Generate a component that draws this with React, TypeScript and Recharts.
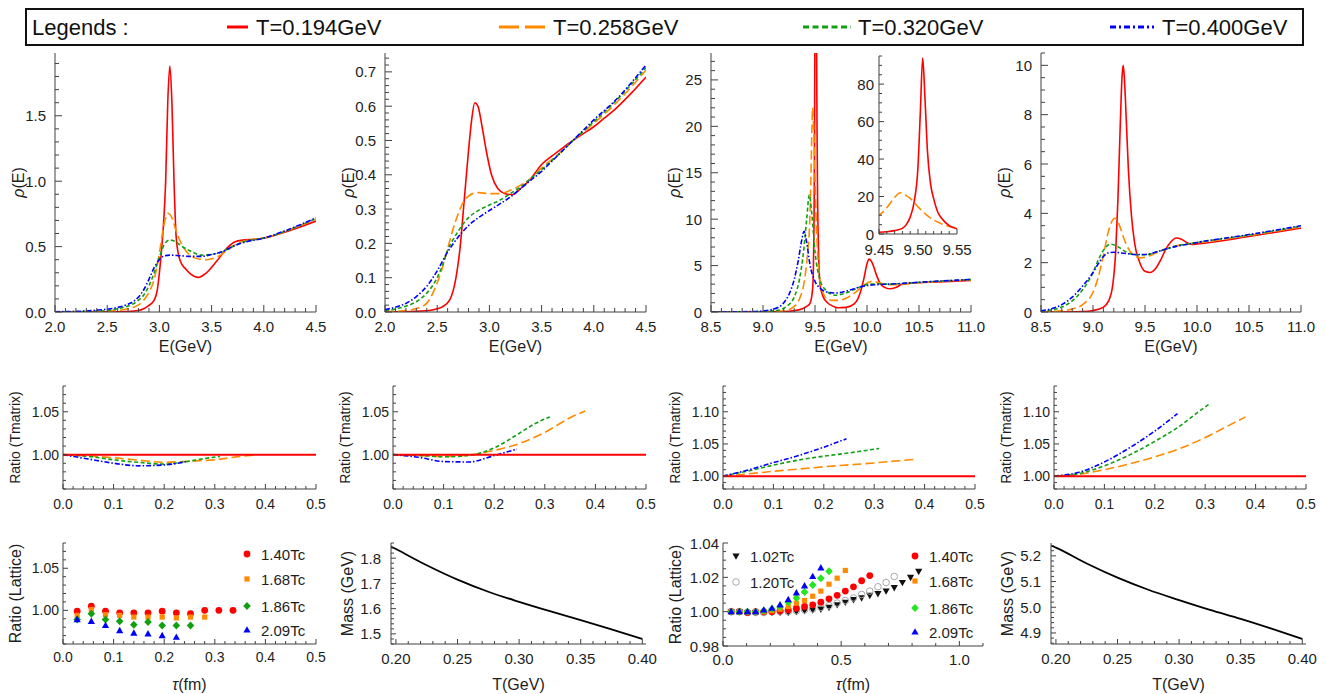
import React from "react";
import { ComposedChart, Line, Scatter, XAxis, YAxis } from "recharts";

const RED = "#ff0000";
const ORANGE = "#ff8a00";
const GREEN = "#12a012";
const BLUE = "#0000ff";
const LIME = "#1fe81f";
const GREY = "#a8a8a8";
const FRAME = "#404040";
const INK = "#1e1e1e";
const SANS = "'Liberation Sans', Arial, Helvetica, sans-serif";

const DASH_ORANGE = "9 4";
const DASH_GREEN = "4 2.5";
const DASH_BLUE = "5 2 1.5 2";

// legend texts
const tempLabels = ["T=0.194GeV", "T=0.258GeV", "T=0.320GeV", "T=0.400GeV"];
const charmLatticeLabels = ["1.40Tc", "1.68Tc", "1.86Tc", "2.09Tc"];
const bottomLatticeLeft = ["1.02Tc", "1.20Tc"];
const bottomLatticeRight = ["1.40Tc", "1.68Tc", "1.86Tc", "2.09Tc"];

// ---- spectral function, charmonium 1
const c1RedE = [2.0, 2.6, 2.8, 2.85, 2.9, 2.95, 2.98, 3.0, 3.02, 3.04, 3.06, 3.08, 3.1, 3.12, 3.14, 3.16, 3.18, 3.2, 3.25, 3.3, 3.37, 3.45, 3.55, 3.65, 3.72, 3.8, 3.9, 4.0, 4.2, 4.5];
const c1RedRho = [0, 0.002, 0.012, 0.025, 0.05, 0.09, 0.17, 0.3, 0.47, 0.68, 1.0, 1.6, 1.88, 1.6, 1.0, 0.58, 0.45, 0.39, 0.33, 0.29, 0.265, 0.3, 0.39, 0.49, 0.535, 0.55, 0.555, 0.565, 0.61, 0.695];
const c1OrangeE = [2.0, 2.4, 2.6, 2.7, 2.8, 2.85, 2.9, 2.95, 3.0, 3.04, 3.08, 3.12, 3.16, 3.2, 3.25, 3.3, 3.38, 3.45, 3.55, 3.65, 3.75, 3.85, 4.0, 4.2, 4.5];
const c1OrangeRho = [0, 0.004, 0.012, 0.025, 0.055, 0.09, 0.15, 0.25, 0.45, 0.65, 0.755, 0.72, 0.62, 0.54, 0.47, 0.43, 0.405, 0.4, 0.42, 0.47, 0.525, 0.55, 0.565, 0.615, 0.71];
const c1GreenE = [2.0, 2.3, 2.5, 2.6, 2.7, 2.8, 2.85, 2.9, 2.95, 3.0, 3.05, 3.1, 3.15, 3.2, 3.3, 3.4, 3.5, 3.6, 3.7, 3.8, 4.0, 4.2, 4.5];
const c1GreenRho = [0, 0.004, 0.012, 0.025, 0.045, 0.09, 0.13, 0.2, 0.3, 0.42, 0.52, 0.55, 0.54, 0.51, 0.465, 0.435, 0.44, 0.46, 0.5, 0.535, 0.565, 0.615, 0.715];
const c1BlueE = [2.0, 2.3, 2.4, 2.5, 2.6, 2.7, 2.75, 2.8, 2.85, 2.9, 2.95, 3.0, 3.05, 3.1, 3.2, 3.3, 3.4, 3.5, 3.6, 3.7, 3.8, 4.0, 4.2, 4.5];
const c1BlueRho = [0.002, 0.008, 0.014, 0.022, 0.035, 0.06, 0.08, 0.115, 0.17, 0.25, 0.34, 0.4, 0.43, 0.435, 0.43, 0.425, 0.425, 0.44, 0.46, 0.5, 0.53, 0.565, 0.62, 0.72];

// ---- spectral function, charmonium 2
const c2RedE = [2.0, 2.3, 2.45, 2.55, 2.62, 2.68, 2.72, 2.76, 2.8, 2.83, 2.86, 2.89, 2.93, 2.97, 3.02, 3.08, 3.15, 3.22, 3.3, 3.4, 3.5, 3.6, 3.7, 3.8, 3.9, 4.0, 4.1, 4.2, 4.35, 4.5];
const c2RedRho = [0, 0.002, 0.006, 0.015, 0.035, 0.1, 0.19, 0.33, 0.47, 0.56, 0.61, 0.6, 0.54, 0.47, 0.4, 0.36, 0.345, 0.342, 0.36, 0.39, 0.43, 0.455, 0.478, 0.5, 0.52, 0.54, 0.565, 0.59, 0.635, 0.685];
const c2OrangeE = [2.0, 2.2, 2.3, 2.4, 2.5, 2.55, 2.6, 2.65, 2.7, 2.75, 2.8, 2.85, 2.9, 3.0, 3.1, 3.2, 3.3, 3.4, 3.5, 3.6, 3.7, 3.8, 3.9, 4.0, 4.2, 4.5];
const c2OrangeRho = [0.001, 0.004, 0.01, 0.026, 0.085, 0.13, 0.185, 0.24, 0.285, 0.32, 0.338, 0.346, 0.348, 0.345, 0.345, 0.355, 0.37, 0.39, 0.42, 0.445, 0.47, 0.5, 0.525, 0.55, 0.605, 0.705];
const c2GreenE = [2.0, 2.1, 2.2, 2.3, 2.4, 2.5, 2.55, 2.6, 2.65, 2.7, 2.8, 2.9, 3.0, 3.1, 3.2, 3.3, 3.4, 3.5, 3.6, 3.7, 3.8, 3.9, 4.0, 4.2, 4.5];
const c2GreenRho = [0.004, 0.009, 0.017, 0.03, 0.055, 0.1, 0.135, 0.18, 0.21, 0.235, 0.275, 0.297, 0.312, 0.326, 0.345, 0.365, 0.39, 0.415, 0.442, 0.47, 0.5, 0.527, 0.555, 0.612, 0.712];
const c2BlueE = [2.0, 2.1, 2.2, 2.3, 2.4, 2.5, 2.6, 2.7, 2.8, 2.9, 3.0, 3.1, 3.2, 3.3, 3.4, 3.5, 3.6, 3.7, 3.8, 3.9, 4.0, 4.2, 4.5];
const c2BlueRho = [0.007, 0.014, 0.025, 0.045, 0.075, 0.12, 0.175, 0.218, 0.252, 0.276, 0.296, 0.315, 0.335, 0.36, 0.385, 0.41, 0.44, 0.47, 0.5, 0.53, 0.56, 0.615, 0.72];

// ---- spectral function, bottomonium 1 (also feeds the inset)
const b1RedE = [8.5, 9.2, 9.3, 9.38, 9.42, 9.45, 9.46, 9.47, 9.48, 9.485, 9.49, 9.495, 9.5, 9.503, 9.506, 9.509, 9.512, 9.516, 9.52, 9.525, 9.53, 9.54, 9.55, 9.58, 9.62, 9.66, 9.72, 9.8, 9.88, 9.93, 9.97, 10.0, 10.02, 10.05, 10.09, 10.13, 10.18, 10.22, 10.27, 10.33, 10.4, 10.6, 11.0];
const b1RedRho = [0, 0.05, 0.15, 0.35, 0.6, 0.9, 1.2, 1.8, 3.0, 5, 9, 17, 36, 65, 94, 72, 45, 27, 19, 12, 8.5, 4.5, 2.8, 1.6, 1.0, 0.7, 0.45, 0.5, 0.9, 1.9, 3.6, 5.2, 5.7, 5.3, 4.0, 3.0, 2.6, 2.5, 2.6, 2.95, 3.1, 3.2, 3.4];
const b1OrangeE = [8.5, 9.1, 9.2, 9.3, 9.35, 9.4, 9.43, 9.45, 9.46, 9.47, 9.477, 9.485, 9.49, 9.5, 9.51, 9.52, 9.53, 9.54, 9.55, 9.58, 9.62, 9.67, 9.72, 9.78, 9.85, 9.92, 10.0, 10.05, 10.1, 10.2, 10.3, 10.5, 11.0];
const b1OrangeRho = [0, 0.03, 0.12, 0.6, 1.4, 3.5, 6.5, 9.9, 14, 19.5, 22, 20.5, 19, 14.5, 10.5, 7.5, 5.5, 4.0, 3.2, 2.0, 1.4, 1.25, 1.25, 1.4, 1.8, 2.4, 3.1, 3.3, 3.2, 2.95, 2.95, 3.15, 3.45];
const b1GreenE = [8.5, 9.0, 9.1, 9.2, 9.25, 9.3, 9.35, 9.39, 9.42, 9.445, 9.47, 9.5, 9.55, 9.6, 9.65, 9.7, 9.8, 9.9, 10.0, 10.1, 10.2, 10.3, 10.5, 11.0];
const b1GreenRho = [0, 0.04, 0.12, 0.4, 0.8, 1.6, 3.5, 6.5, 10, 12.6, 10.5, 6.5, 3.4, 2.4, 1.95, 1.8, 2.05, 2.55, 2.95, 3.05, 3.0, 3.05, 3.2, 3.5];
const b1BlueE = [8.5, 8.9, 9.0, 9.1, 9.2, 9.25, 9.3, 9.34, 9.37, 9.395, 9.42, 9.45, 9.5, 9.55, 9.6, 9.7, 9.8, 9.9, 10.0, 10.1, 10.2, 10.3, 10.5, 11.0];
const b1BlueRho = [0, 0.05, 0.12, 0.3, 1.0, 1.9, 3.5, 5.6, 7.6, 8.7, 7.5, 5.2, 3.3, 2.55, 2.2, 2.05, 2.25, 2.6, 2.85, 2.95, 3.0, 3.05, 3.2, 3.5];

// ---- spectral function, bottomonium 2
const b2RedE = [8.5, 8.9, 9.0, 9.1, 9.15, 9.19, 9.22, 9.24, 9.26, 9.28, 9.29, 9.3, 9.32, 9.34, 9.37, 9.4, 9.45, 9.5, 9.55, 9.6, 9.65, 9.7, 9.75, 9.8, 9.85, 9.9, 9.95, 10.0, 10.5, 11.0];
const b2RedRho = [0, 0.02, 0.06, 0.2, 0.45, 1.1, 2.6, 4.6, 7.3, 9.6, 10.0, 9.6, 7.8, 5.8, 3.9, 2.8, 2.0, 1.65, 1.6, 1.75, 2.1, 2.55, 2.85, 3.0, 2.95, 2.82, 2.74, 2.76, 3.06, 3.4];
const b2OrangeE = [8.5, 8.7, 8.8, 8.9, 9.0, 9.05, 9.1, 9.15, 9.21, 9.25, 9.3, 9.35, 9.4, 9.45, 9.5, 9.6, 9.7, 9.8, 9.9, 10.0, 10.5, 11.0];
const b2OrangeRho = [0.01, 0.05, 0.12, 0.3, 0.8, 1.4, 2.3, 3.3, 3.8, 3.55, 2.95, 2.5, 2.28, 2.2, 2.22, 2.38, 2.55, 2.68, 2.75, 2.8, 3.1, 3.45];
const b2GreenE = [8.5, 8.6, 8.7, 8.8, 8.9, 9.0, 9.05, 9.1, 9.17, 9.25, 9.3, 9.4, 9.5, 9.6, 9.7, 9.8, 9.9, 10.0, 10.5, 11.0];
const b2GreenRho = [0.03, 0.08, 0.2, 0.45, 0.9, 1.6, 2.1, 2.5, 2.75, 2.62, 2.48, 2.32, 2.32, 2.42, 2.55, 2.68, 2.75, 2.82, 3.12, 3.48];
const b2BlueE = [8.5, 8.6, 8.7, 8.8, 8.9, 9.0, 9.05, 9.1, 9.15, 9.2, 9.3, 9.4, 9.5, 9.6, 9.7, 9.8, 9.9, 10.0, 10.5, 11.0];
const b2BlueRho = [0.05, 0.13, 0.3, 0.6, 1.05, 1.6, 1.95, 2.25, 2.4, 2.42, 2.38, 2.33, 2.33, 2.42, 2.55, 2.66, 2.74, 2.82, 3.14, 3.5];

// ---- T-matrix correlator ratios
const flatTau = [0, 0.5];
const flatRatio = [1, 1];
const tmOrangeTau = [0, 0.05, 0.1, 0.15, 0.2, 0.25, 0.3, 0.35, 0.38];
const tmGreenTau = [0, 0.05, 0.1, 0.15, 0.2, 0.25, 0.28, 0.31];
const tmBlueTau = [0, 0.05, 0.1, 0.15, 0.2, 0.245];

const m1Orange = [1, 0.9985, 0.9964, 0.9935, 0.9912, 0.9924, 0.994, 0.998, 0.9995];
const m1Green = [1, 0.998, 0.994, 0.991, 0.989, 0.9925, 0.9955, 0.998];
const m1Blue = [1, 0.995, 0.99, 0.987, 0.988, 0.992];

const m2Orange = [1, 0.999, 0.998, 0.9995, 1.005, 1.013, 1.026, 1.043, 1.051];
const m2Green = [1, 0.9992, 0.9975, 0.999, 1.008, 1.025, 1.036, 1.044];
const m2Blue = [1, 0.997, 0.992, 0.9915, 0.999, 1.0065];

const m3Orange = [1, 1.0035, 1.0075, 1.011, 1.0145, 1.0175, 1.0205, 1.024, 1.026];
const m3Green = [1, 1.008, 1.017, 1.025, 1.031, 1.036, 1.0395, 1.043];
const m3Blue = [1, 1.0095, 1.021, 1.032, 1.045, 1.058];

const m4Orange = [1, 1.003, 1.01, 1.019, 1.03, 1.043, 1.06, 1.08, 1.092];
const m4Green = [1, 1.004, 1.016, 1.033, 1.054, 1.078, 1.096, 1.113];
const m4Blue = [1, 1.006, 1.022, 1.044, 1.07, 1.097];

// ---- lattice ratios, charmonium
const cLatTau = [0.028, 0.056, 0.084, 0.112, 0.14, 0.168, 0.196, 0.224, 0.252, 0.28, 0.308, 0.336];
const cLat140 = [0.999, 1.005, 0.999, 0.997, 0.997, 0.997, 0.999, 0.997, 0.996, 1.0, 1.0, 1.0];
const cLat168 = [0.994, 1.001, 0.995, 0.994, 0.992, 0.992, 0.992, 0.991, 0.992, 0.992];
const cLat186 = [0.989, 0.996, 0.989, 0.987, 0.983, 0.986, 0.982, 0.982, 0.982];
const cLat209 = [0.989, 0.987, 0.982, 0.976, 0.973, 0.972, 0.97, 0.968];

// ---- lattice ratios, bottomonium
const bLatTau = [0.0345, 0.069, 0.1035, 0.138, 0.1725, 0.207, 0.2415, 0.276, 0.3105, 0.345, 0.3795, 0.414, 0.4485, 0.483, 0.5175, 0.552, 0.5865, 0.621, 0.6555, 0.69, 0.7245, 0.759, 0.7935, 0.828];
const bLat102 = [1.0, 1.0, 0.9995, 0.9995, 0.9995, 0.9995, 0.9995, 0.9995, 1.0, 1.0005, 1.001, 1.0015, 1.0025, 1.004, 1.0055, 1.007, 1.008, 1.0095, 1.0105, 1.012, 1.014, 1.017, 1.02, 1.0235];
const bLat120 = [1.0, 1.0, 0.9995, 0.9995, 0.9995, 1.0, 1.0, 1.0, 1.0005, 1.001, 1.0015, 1.0025, 1.0035, 1.005, 1.0065, 1.008, 1.01, 1.012, 1.0145, 1.017, 1.0205];
const bLat140 = [1.0, 1.0, 0.9995, 1.0, 1.0, 1.0, 1.0005, 1.001, 1.002, 1.003, 1.004, 1.0055, 1.0075, 1.0095, 1.012, 1.0145, 1.018, 1.021];
const bLat168 = [1.0, 1.0, 1.0, 1.0, 1.0, 1.0005, 1.0015, 1.003, 1.005, 1.0065, 1.009, 1.012, 1.016, 1.0195, 1.024];
const bLat186 = [1.0, 1.0, 1.0, 1.0, 1.0005, 1.0015, 1.003, 1.0055, 1.008, 1.0115, 1.0155, 1.0195, 1.0235];
const bLat209 = [1.0, 1.0, 1.0, 1.0, 1.001, 1.002, 1.004, 1.007, 1.011, 1.015, 1.0205, 1.0255];

// ---- in-medium quark mass
const massT = [0.196, 0.2, 0.225, 0.25, 0.275, 0.3, 0.325, 0.35, 0.375, 0.4];
const charmMass = [1.846, 1.836, 1.772, 1.715, 1.667, 1.627, 1.59, 1.555, 1.518, 1.48];
const bottomMass = [5.24, 5.232, 5.17, 5.115, 5.068, 5.028, 4.99, 4.955, 4.917, 4.877];

// ---- tick labels
const eTicksCharm = [2.0, 2.5, 3.0, 3.5, 4.0, 4.5];
const eTicksBottom = [8.5, 9.0, 9.5, 10.0, 10.5, 11.0];
const rhoTicksC1 = [0, 0.5, 1.0, 1.5];
const rhoTicksC2 = [0, 0.1, 0.2, 0.3, 0.4, 0.5, 0.6, 0.7];
const rhoTicksB1 = [0, 5, 10, 15, 20, 25];
const rhoTicksB2 = [0, 2, 4, 6, 8, 10];
const insetETicks = [9.45, 9.5, 9.55];
const insetRhoTicks = [0, 20, 40, 60, 80];
const tauTicks = [0, 0.1, 0.2, 0.3, 0.4, 0.5];
const tauTicksLong = [0, 0.5, 1.0];
const ratioTicksLow = [1.0, 1.05];
const ratioTicksHigh = [1.0, 1.05, 1.1];
const latticeTicksB = [0.98, 1.0, 1.02, 1.04];
const tempTicks = [0.2, 0.25, 0.3, 0.35, 0.4];
const massTicksC = [1.5, 1.6, 1.7, 1.8];
const massTicksB = [4.9, 5.0, 5.1, 5.2];

type Pt = { x: number; y: number };
const pts = (xs: number[], ys: number[]): Pt[] => ys.map((y, i) => ({ x: xs[i], y }));

function tickGrid(lo: number, hi: number, step: number, majors: number[]) {
  const out: number[] = [];
  const first = Math.ceil(lo / step - 1e-6);
  const last = Math.floor(hi / step + 1e-6);
  for (let i = first; i <= last; i++) out.push(Number((i * step).toFixed(6)));
  majors.forEach((m) => {
    if (!out.some((v) => Math.abs(v - m) < step * 1e-3)) out.push(m);
  });
  return out.sort((a, b) => a - b);
}

type Side = "bottom" | "top" | "left" | "right";

function makeTick(side: Side, majors: number[], digits: number, labelled: boolean, fs: number, gap: number, majorLen: number, minorLen: number, tol: number) {
  return (p: any) => {
    const v = Number(p.payload.value);
    const major = majors.some((m) => Math.abs(m - v) < tol);
    const len = major ? majorLen : minorLen;
    const x = p.x;
    const y = p.y;
    const dx = side === "left" ? len : side === "right" ? -len : 0;
    const dy = side === "bottom" ? -len : side === "top" ? len : 0;
    let text = null;
    if (labelled && major) {
      text =
        side === "bottom" ? (
          <text x={x} y={y + gap} textAnchor="middle" dominantBaseline="central" fontSize={fs} fontFamily={SANS} fill={INK}>
            {v.toFixed(digits)}
          </text>
        ) : (
          <text x={x - gap} y={y} textAnchor="end" dominantBaseline="central" fontSize={fs} fontFamily={SANS} fill={INK}>
            {v.toFixed(digits)}
          </text>
        );
    }
    return (
      <g>
        <line x1={x} y1={y} x2={x + dx} y2={y + dy} stroke={FRAME} strokeWidth={1} />
        {text}
      </g>
    );
  };
}

type PanelProps = {
  frame: [number, number, number, number];
  xDomain: [number, number];
  yDomain: [number, number];
  xMajor: number[];
  yMajor: number[];
  xMinor: number;
  yMinor: number;
  xDigits: number;
  yDigits: number;
  fontSize: number;
  xGap: number;
  yGap: number;
  xTitle?: React.ReactNode;
  yTitle?: React.ReactNode;
  xTitleDy?: number;
  yTitleDx?: number;
  titleSize?: number;
  majorLen?: number;
  minorLen?: number;
  background?: string;
  children: React.ReactNode;
};

const GL = 70;
const GR = 26;
const GT = 12;
const GB = 56;

function Panel(props: PanelProps) {
  const { frame, xDomain, yDomain, xMajor, yMajor, xMinor, yMinor, xDigits, yDigits, fontSize, xGap, yGap } = props;
  const majorLen = props.majorLen ?? 5;
  const minorLen = props.minorLen ?? 3;
  const titleSize = props.titleSize ?? 15;
  const [l, t, r, b] = frame;
  const w = r - l + GL + GR;
  const h = b - t + GT + GB;
  const xTicks = tickGrid(xDomain[0], xDomain[1], xMinor, xMajor);
  const yTicks = tickGrid(yDomain[0], yDomain[1], yMinor, yMajor);
  const xTol = xMinor * 0.01;
  const yTol = yMinor * 0.01;
  const frameLine = { stroke: FRAME, strokeWidth: 1 };
  const xLabel = props.xTitle
    ? {
        content: (lp: any) => {
          const vb = lp.viewBox;
          return (
            <text x={vb.x + vb.width / 2} y={vb.y + (props.xTitleDy ?? 34)} textAnchor="middle" dominantBaseline="central" fontSize={titleSize} fontFamily={SANS} fill={INK}>
              {props.xTitle}
            </text>
          );
        },
      }
    : undefined;
  const yLabel = props.yTitle
    ? {
        content: (lp: any) => {
          const vb = lp.viewBox;
          const cx = vb.x + vb.width - (props.yTitleDx ?? 38);
          const cy = vb.y + vb.height / 2;
          return (
            <text x={cx} y={cy} transform={`rotate(-90 ${cx} ${cy})`} textAnchor="middle" dominantBaseline="central" fontSize={titleSize} fontFamily={SANS} fill={INK}>
              {props.yTitle}
            </text>
          );
        },
      }
    : undefined;
  return (
    <div style={{ position: "absolute", left: l - GL, top: t - GT, width: w, height: h }}>
      {props.background && (
        <div style={{ position: "absolute", left: GL, top: GT, width: r - l, height: b - t, background: props.background }} />
      )}
      <div style={{ position: "absolute", left: 0, top: 0 }}>
        <ComposedChart width={w} height={h} margin={{ top: GT, right: GR, bottom: 0, left: 0 }}>
          <XAxis
            xAxisId={0}
            dataKey="x"
            type="number"
            orientation="bottom"
            domain={xDomain}
            allowDataOverflow
            height={GB}
            ticks={xTicks}
            interval={0}
            tickLine={false}
            tickSize={0}
            tickMargin={0}
            axisLine={frameLine}
            tick={makeTick("bottom", xMajor, xDigits, true, fontSize, xGap, majorLen, minorLen, xTol)}
            label={xLabel}
          />
          <XAxis
            xAxisId="top"
            type="number"
            orientation="top"
            domain={xDomain}
            allowDataOverflow
            height={0}
            ticks={xTicks}
            interval={0}
            tickLine={false}
            tickSize={0}
            tickMargin={0}
            axisLine={frameLine}
            tick={makeTick("top", xMajor, xDigits, false, fontSize, 0, majorLen, minorLen, xTol)}
          />
          <YAxis
            yAxisId={0}
            dataKey="y"
            type="number"
            orientation="left"
            domain={yDomain}
            allowDataOverflow
            width={GL}
            ticks={yTicks}
            interval={0}
            tickLine={false}
            tickSize={0}
            tickMargin={0}
            axisLine={frameLine}
            tick={makeTick("left", yMajor, yDigits, true, fontSize, yGap, majorLen, minorLen, yTol)}
            label={yLabel}
          />
          <YAxis
            yAxisId="right"
            type="number"
            orientation="right"
            domain={yDomain}
            allowDataOverflow
            width={0}
            ticks={yTicks}
            interval={0}
            tickLine={false}
            tickSize={0}
            tickMargin={0}
            axisLine={frameLine}
            tick={makeTick("right", yMajor, yDigits, false, fontSize, 0, majorLen, minorLen, yTol)}
          />
          {props.children}
        </ComposedChart>
      </div>
    </div>
  );
}

const curve = (key: string, data: Pt[], color: string, dash?: string, width = 1.6) => (
  <Line
    key={key}
    data={data}
    dataKey="y"
    type="monotone"
    stroke={color}
    strokeWidth={width}
    strokeDasharray={dash}
    dot={false}
    activeDot={false}
    isAnimationActive={false}
  />
);

type MarkerKind = "circle" | "square" | "diamond" | "up" | "down" | "ring";

function Marker({ kind, color, cx, cy }: { kind: MarkerKind; color: string; cx: number; cy: number }) {
  if (cx == null || cy == null) return null;
  switch (kind) {
    case "circle":
      return <circle cx={cx} cy={cy} r={3.4} fill={color} />;
    case "ring":
      return <circle cx={cx} cy={cy} r={3.3} fill="none" stroke={color} strokeWidth={1} />;
    case "square":
      return <rect x={cx - 2.6} y={cy - 2.6} width={5.2} height={5.2} fill={color} />;
    case "diamond":
      return <polygon points={`${cx},${cy - 4} ${cx + 3.8},${cy} ${cx},${cy + 4} ${cx - 3.8},${cy}`} fill={color} />;
    case "up":
      return <polygon points={`${cx},${cy - 3.8} ${cx + 3.6},${cy + 2.6} ${cx - 3.6},${cy + 2.6}`} fill={color} />;
    default:
      return <polygon points={`${cx},${cy + 3.8} ${cx + 3.6},${cy - 2.6} ${cx - 3.6},${cy - 2.6}`} fill={color} />;
  }
}

const dots = (key: string, data: Pt[], kind: MarkerKind, color: string) => (
  <Scatter
    key={key}
    data={data}
    dataKey="y"
    isAnimationActive={false}
    shape={(p: any) => <Marker kind={kind} color={color} cx={p.cx} cy={p.cy} />}
  />
);

const rhoTitle = (
  <>
    <tspan fontStyle="italic">ρ</tspan>(E)
  </>
);
const tauTitle = (
  <>
    <tspan fontStyle="italic">τ</tspan>(fm)
  </>
);

function spectral(red: Pt[], orange: Pt[], green: Pt[], blue: Pt[]) {
  return [
    curve("r", red, RED),
    curve("o", orange, ORANGE, DASH_ORANGE),
    curve("g", green, GREEN, DASH_GREEN),
    curve("b", blue, BLUE, DASH_BLUE),
  ];
}

function ratios(orange: Pt[], green: Pt[], blue: Pt[]) {
  return [
    curve("o", orange, ORANGE, DASH_ORANGE),
    curve("g", green, GREEN, DASH_GREEN),
    curve("b", blue, BLUE, DASH_BLUE),
    curve("r", pts(flatTau, flatRatio), RED, undefined, 2),
  ];
}

function TopLegend() {
  const cy = 27;
  const keyFont = { fontSize: 22, fontFamily: SANS, fill: "#111" };
  return (
    <svg width={1326} height={52} style={{ position: "absolute", left: 0, top: 0 }}>
      <rect x={26} y={9} width={1277} height={36} fill="#fff" stroke="#111" strokeWidth={2} />
      <text x={32} y={cy} dominantBaseline="central" {...keyFont}>
        Legends :
      </text>
      <line x1={227} x2={248} y1={cy} y2={cy} stroke={RED} strokeWidth={3} />
      <text x={256} y={cy} dominantBaseline="central" {...keyFont}>{tempLabels[0]}</text>
      <line x1={499} x2={545} y1={cy} y2={cy} stroke={ORANGE} strokeWidth={3} strokeDasharray="20 6" />
      <text x={553} y={cy} dominantBaseline="central" {...keyFont}>{tempLabels[1]}</text>
      <line x1={803} x2={851} y1={cy} y2={cy} stroke={GREEN} strokeWidth={3} strokeDasharray="6 3.5" />
      <text x={858} y={cy} dominantBaseline="central" {...keyFont}>{tempLabels[2]}</text>
      <line x1={1110} x2={1154} y1={cy} y2={cy} stroke={BLUE} strokeWidth={3} strokeDasharray="6 3 2 3" />
      <text x={1162} y={cy} dominantBaseline="central" {...keyFont}>{tempLabels[3]}</text>
    </svg>
  );
}

function MarkerKey({ x, tx, rows, labels, kinds, colors }: { x: number; tx: number; rows: number[]; labels: string[]; kinds: MarkerKind[]; colors: string[] }) {
  return (
    <>
      {labels.map((lab, i) => (
        <g key={lab + i}>
          <Marker kind={kinds[i]} color={colors[i]} cx={x} cy={rows[i]} />
          <text x={tx} y={rows[i]} dominantBaseline="central" fontSize={15} fontFamily={SANS} fill={INK}>
            {lab}
          </text>
        </g>
      ))}
    </>
  );
}

export default function App() {
  return (
    <div style={{ position: "absolute", left: 0, top: 0, width: 1326, height: 694, background: "#fff", overflow: "hidden" }}>
      <TopLegend />

      {/* row 1: spectral functions */}
      <Panel frame={[55, 53, 316, 312]} xDomain={[2, 4.5]} yDomain={[0, 1.98]} xMajor={eTicksCharm} yMajor={rhoTicksC1} xMinor={0.1} yMinor={0.1} xDigits={1} yDigits={1} fontSize={15} xGap={14} yGap={9} xTitle="E(GeV)" yTitle={rhoTitle} xTitleDy={34} yTitleDx={37} titleSize={16} majorLen={7} minorLen={4}>
        {spectral(pts(c1RedE, c1RedRho), pts(c1OrangeE, c1OrangeRho), pts(c1GreenE, c1GreenRho), pts(c1BlueE, c1BlueRho))}
      </Panel>
      <Panel frame={[385, 53, 646, 312]} xDomain={[2, 4.5]} yDomain={[0, 0.755]} xMajor={eTicksCharm} yMajor={rhoTicksC2} xMinor={0.1} yMinor={0.02} xDigits={1} yDigits={1} fontSize={15} xGap={14} yGap={9} xTitle="E(GeV)" yTitle={rhoTitle} xTitleDy={34} yTitleDx={37} titleSize={16} majorLen={7} minorLen={4}>
        {spectral(pts(c2RedE, c2RedRho), pts(c2OrangeE, c2OrangeRho), pts(c2GreenE, c2GreenRho), pts(c2BlueE, c2BlueRho))}
      </Panel>
      <Panel frame={[711, 53, 971, 312]} xDomain={[8.5, 11]} yDomain={[0, 27.9]} xMajor={eTicksBottom} yMajor={rhoTicksB1} xMinor={0.1} yMinor={1} xDigits={1} yDigits={0} fontSize={15} xGap={14} yGap={9} xTitle="E(GeV)" yTitle={rhoTitle} xTitleDy={34} yTitleDx={37} titleSize={16} majorLen={7} minorLen={4}>
        {spectral(pts(b1RedE, b1RedRho), pts(b1OrangeE, b1OrangeRho), pts(b1GreenE, b1GreenRho), pts(b1BlueE, b1BlueRho))}
      </Panel>
      <Panel frame={[879, 56, 957, 234]} xDomain={[9.45, 9.55]} yDomain={[0, 95]} xMajor={insetETicks} yMajor={insetRhoTicks} xMinor={0.01} yMinor={5} xDigits={2} yDigits={0} fontSize={15} xGap={15} yGap={5} majorLen={5} minorLen={3} background="#fff">
        {[curve("o", pts(b1OrangeE, b1OrangeRho), ORANGE, DASH_ORANGE), curve("r", pts(b1RedE, b1RedRho), RED)]}
      </Panel>
      <Panel frame={[1041, 53, 1301, 312]} xDomain={[8.5, 11]} yDomain={[0, 10.5]} xMajor={eTicksBottom} yMajor={rhoTicksB2} xMinor={0.1} yMinor={0.5} xDigits={1} yDigits={0} fontSize={15} xGap={14} yGap={9} xTitle="E(GeV)" yTitle={rhoTitle} xTitleDy={34} yTitleDx={37} titleSize={16} majorLen={7} minorLen={4}>
        {spectral(pts(b2RedE, b2RedRho), pts(b2OrangeE, b2OrangeRho), pts(b2GreenE, b2GreenRho), pts(b2BlueE, b2BlueRho))}
      </Panel>

      {/* row 2: T-matrix correlator ratios */}
      <Panel frame={[63, 386, 316, 489]} xDomain={[0, 0.5]} yDomain={[0.96, 1.08]} xMajor={tauTicks} yMajor={ratioTicksLow} xMinor={0.02} yMinor={0.01} xDigits={1} yDigits={2} fontSize={14} xGap={15} yGap={4} yTitle="Ratio (Tmatrix)" yTitleDx={48} titleSize={14}>
        {ratios(pts(tmOrangeTau, m1Orange), pts(tmGreenTau, m1Green), pts(tmBlueTau, m1Blue))}
      </Panel>
      <Panel frame={[393, 386, 646, 489]} xDomain={[0, 0.5]} yDomain={[0.96, 1.08]} xMajor={tauTicks} yMajor={ratioTicksLow} xMinor={0.02} yMinor={0.01} xDigits={1} yDigits={2} fontSize={14} xGap={15} yGap={4} yTitle="Ratio (Tmatrix)" yTitleDx={48} titleSize={14}>
        {ratios(pts(tmOrangeTau, m2Orange), pts(tmGreenTau, m2Green), pts(tmBlueTau, m2Blue))}
      </Panel>
      <Panel frame={[723, 386, 975, 489]} xDomain={[0, 0.5]} yDomain={[0.98, 1.14]} xMajor={tauTicks} yMajor={ratioTicksHigh} xMinor={0.02} yMinor={0.01} xDigits={1} yDigits={2} fontSize={14} xGap={15} yGap={4} yTitle="Ratio (Tmatrix)" yTitleDx={48} titleSize={14}>
        {ratios(pts(tmOrangeTau, m3Orange), pts(tmGreenTau, m3Green), pts(tmBlueTau, m3Blue))}
      </Panel>
      <Panel frame={[1054, 386, 1306, 489]} xDomain={[0, 0.5]} yDomain={[0.98, 1.14]} xMajor={tauTicks} yMajor={ratioTicksHigh} xMinor={0.02} yMinor={0.01} xDigits={1} yDigits={2} fontSize={14} xGap={15} yGap={4} yTitle="Ratio (Tmatrix)" yTitleDx={48} titleSize={14}>
        {ratios(pts(tmOrangeTau, m4Orange), pts(tmGreenTau, m4Green), pts(tmBlueTau, m4Blue))}
      </Panel>

      {/* row 3: lattice ratios and quark masses */}
      <Panel frame={[63, 543, 316, 644]} xDomain={[0, 0.5]} yDomain={[0.96, 1.08]} xMajor={tauTicks} yMajor={ratioTicksLow} xMinor={0.02} yMinor={0.01} xDigits={1} yDigits={2} fontSize={14} xGap={13} yGap={4} xTitle={tauTitle} yTitle="Ratio (Lattice)" xTitleDy={40} yTitleDx={48} titleSize={16}>
        {[
          dots("c140", pts(cLatTau, cLat140), "circle", RED),
          dots("c168", pts(cLatTau, cLat168), "square", ORANGE),
          dots("c186", pts(cLatTau, cLat186), "diamond", GREEN),
          dots("c209", pts(cLatTau, cLat209), "up", BLUE),
        ]}
      </Panel>
      <Panel frame={[391, 543, 646, 644]} xDomain={[0.196, 0.403]} yDomain={[1.46, 1.86]} xMajor={tempTicks} yMajor={massTicksC} xMinor={0.01} yMinor={0.02} xDigits={2} yDigits={1} fontSize={15} xGap={14} yGap={10} xTitle="T(GeV)" yTitle="Mass (GeV)" xTitleDy={40} yTitleDx={44} titleSize={16}>
        {[curve("m", pts(massT, charmMass), "#000", undefined, 1.8)]}
      </Panel>
      <Panel frame={[723, 543, 983, 646]} xDomain={[0, 1.1]} yDomain={[0.98, 1.04]} xMajor={tauTicksLong} yMajor={latticeTicksB} xMinor={0.1} yMinor={0.005} xDigits={1} yDigits={2} fontSize={15} xGap={13} yGap={4} xTitle={tauTitle} yTitle="Ratio (Lattice)" xTitleDy={38} yTitleDx={48} titleSize={16}>
        {[
          dots("b102", pts(bLatTau, bLat102), "down", "#111"),
          dots("b120", pts(bLatTau, bLat120), "ring", GREY),
          dots("b140", pts(bLatTau, bLat140), "circle", RED),
          dots("b168", pts(bLatTau, bLat168), "square", ORANGE),
          dots("b186", pts(bLatTau, bLat186), "diamond", LIME),
          dots("b209", pts(bLatTau, bLat209), "up", BLUE),
        ]}
      </Panel>
      <Panel frame={[1051, 543, 1306, 644]} xDomain={[0.196, 0.403]} yDomain={[4.857, 5.25]} xMajor={tempTicks} yMajor={massTicksB} xMinor={0.01} yMinor={0.02} xDigits={2} yDigits={1} fontSize={15} xGap={14} yGap={10} xTitle="T(GeV)" yTitle="Mass (GeV)" xTitleDy={40} yTitleDx={44} titleSize={16}>
        {[curve("m", pts(massT, bottomMass), "#000", undefined, 1.8)]}
      </Panel>

      <svg width={1326} height={694} style={{ position: "absolute", left: 0, top: 0, pointerEvents: "none" }}>
        <MarkerKey x={247} tx={261} rows={[554, 579, 606, 630]} labels={charmLatticeLabels} kinds={["circle", "square", "diamond", "up"]} colors={[RED, ORANGE, GREEN, BLUE]} />
        <MarkerKey x={736} tx={750} rows={[556, 582]} labels={bottomLatticeLeft} kinds={["down", "ring"]} colors={["#111", GREY]} />
        <MarkerKey x={915} tx={929} rows={[556, 581, 608, 632]} labels={bottomLatticeRight} kinds={["circle", "square", "diamond", "up"]} colors={[RED, ORANGE, LIME, BLUE]} />
      </svg>
    </div>
  );
}
